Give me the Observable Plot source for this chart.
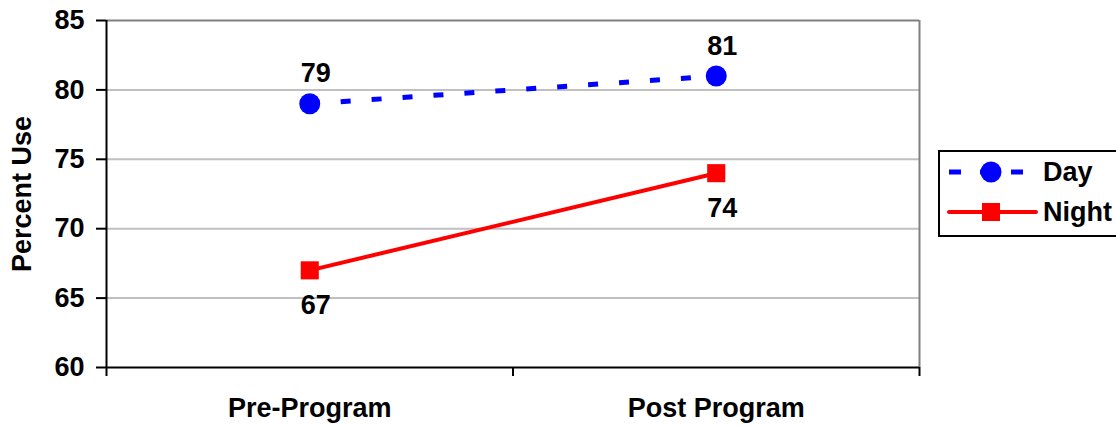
<!DOCTYPE html>
<html>
<head>
<meta charset="utf-8">
<script src="https://cdn.jsdelivr.net/npm/d3@7"></script>
<script src="https://cdn.jsdelivr.net/npm/@observablehq/plot@0.6"></script>
<style>
  html, body { margin: 0; padding: 0; background: #fff; }
  #chart svg { display: block; }
</style>
</head>
<body>
<div id="chart"></div>
<script>
const categories = ["Pre-Program", "Post Program"];
const daySeries = [79, 81];
const nightSeries = [67, 74];
const yTicks = [60, 65, 70, 75, 80, 85];
const seriesNames = ["Day", "Night"];

const rows = [];
categories.forEach((c, i) => {
  rows.push({series: "Day", cat: c, x: i + 0.5, value: daySeries[i]});
  rows.push({series: "Night", cat: c, x: i + 0.5, value: nightSeries[i]});
});
const day = rows.filter(d => d.series === "Day");
const night = rows.filter(d => d.series === "Night");

const FONT = "'Liberation Sans', Arial, sans-serif";

const chart = Plot.plot({
  width: 1116,
  height: 426,
  marginLeft: 106,
  marginRight: 197,
  marginTop: 20,
  marginBottom: 59,
  style: {fontFamily: FONT, fontSize: "27px", fontWeight: "bold", color: "#000", background: "#fff"},
  x: {domain: [0, categories.length]},
  y: {domain: [60, 85]},
  marks: [
    Plot.gridY([65, 70, 75, 80], {stroke: "#c0c0c0", strokeOpacity: 1, strokeWidth: 2}),
    Plot.ruleY([85], {stroke: "#808080", strokeWidth: 2}),
    Plot.ruleX([categories.length], {stroke: "#808080", strokeWidth: 2}),
    Plot.axisY({ticks: yTicks, tickSize: 10, tickPadding: 12, strokeWidth: 2, label: null, fontSize: 27}),
    Plot.axisX({ticks: d3.range(categories.length + 1), tickSize: 9, tickFormat: () => "", strokeWidth: 2, label: null}),
    Plot.axisX({ticks: categories.map((c, i) => i + 0.5), tickSize: 0, tickPadding: 30, tickFormat: (d) => categories[Math.floor(d)], label: null, fontSize: 27}),
    Plot.ruleX([0], {stroke: "#000", strokeWidth: 2}),
    Plot.ruleY([60], {stroke: "#000", strokeWidth: 2}),
    Plot.text(["Percent Use"], {frameAnchor: "left", textAnchor: "middle", rotate: -90, dx: -84, fontSize: 27, fontWeight: "bold", fill: "#000"}),
    Plot.line(day, {x: "x", y: "value", stroke: "#0000ff", strokeWidth: 5, strokeDasharray: "10,21", strokeLinecap: "butt"}),
    Plot.line(night, {x: "x", y: "value", stroke: "#ff0000", strokeWidth: 4}),
    Plot.dot(day, {x: "x", y: "value", r: 10.5, fill: "#0000ff", symbol: "circle"}),
    Plot.dot(night, {x: "x", y: "value", r: 10.2, fill: "#ff0000", symbol: "square"}),
    Plot.text(day, {x: "x", y: "value", text: d => String(d.value), dx: 6, dy: -30, fontSize: 27, fill: "#000"}),
    Plot.text(night, {x: "x", y: "value", text: d => String(d.value), dx: 6, dy: 35, fontSize: 27, fill: "#000"})
  ]
});
document.getElementById("chart").appendChild(chart);

// Legend in the right margin
const svg = d3.select(chart);
const lg = svg.append("g").attr("font-family", FONT).attr("font-weight", "bold").attr("font-size", 27).attr("text-anchor", "start");
lg.append("rect").attr("x", 939).attr("y", 151).attr("width", 190).attr("height", 85)
  .attr("fill", "#fff").attr("stroke", "#000").attr("stroke-width", 2);
const legendItems = [
  {name: seriesNames[0], color: "#0000ff", dash: "12,19", y: 172, sym: "circle", x2: 1023},
  {name: seriesNames[1], color: "#ff0000", dash: null, y: 212, sym: "square", x2: 1036}
];
legendItems.forEach(it => {
  const l = lg.append("line").attr("x1", 949).attr("x2", it.x2).attr("y1", it.y).attr("y2", it.y)
    .attr("stroke", it.color).attr("stroke-width", 5);
  if (it.dash) l.attr("stroke-dasharray", it.dash);
  else l.attr("stroke-linecap", "round").attr("stroke-width", 4);
  if (it.sym === "circle") lg.append("circle").attr("cx", 991).attr("cy", it.y).attr("r", 10.5).attr("fill", it.color);
  else lg.append("rect").attr("x", 982).attr("y", it.y - 9).attr("width", 18).attr("height", 18).attr("fill", it.color);
  lg.append("text").attr("x", 1043).attr("y", it.y).attr("dy", "0.35em").attr("fill", "#000").text(it.name);
});
</script>
</body>
</html>
